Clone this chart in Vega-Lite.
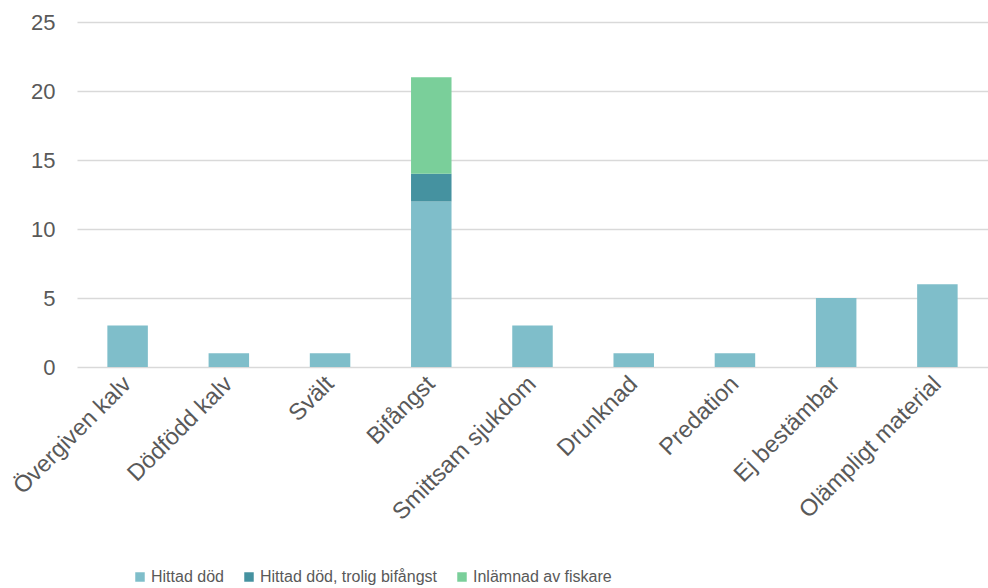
{
  "$schema": "https://vega.github.io/schema/vega-lite/v6.json",
  "autosize": {"type": "none"},
  "width": 911,
  "height": 345,
  "padding": {"left": 77, "top": 22, "right": 0, "bottom": 221},
  "background": "white",
  "config": {
    "view": {"stroke": null},
    "font": "Liberation Sans",
    "axis": {"labelColor": "#595959", "labelFont": "Liberation Sans"},
    "legend": {"labelColor": "#595959", "labelFont": "Liberation Sans"}
  },
  "data": {
    "values": [
      {"orsak": "Övergiven kalv", "typ": "Hittad död", "antal": 3},
      {"orsak": "Dödfödd kalv", "typ": "Hittad död", "antal": 1},
      {"orsak": "Svält", "typ": "Hittad död", "antal": 1},
      {"orsak": "Bifångst", "typ": "Hittad död", "antal": 12},
      {"orsak": "Bifångst", "typ": "Hittad död, trolig bifångst", "antal": 2},
      {"orsak": "Bifångst", "typ": "Inlämnad av fiskare", "antal": 7},
      {"orsak": "Smittsam sjukdom", "typ": "Hittad död", "antal": 3},
      {"orsak": "Drunknad", "typ": "Hittad död", "antal": 1},
      {"orsak": "Predation", "typ": "Hittad död", "antal": 1},
      {"orsak": "Ej bestämbar", "typ": "Hittad död", "antal": 5},
      {"orsak": "Olämpligt material", "typ": "Hittad död", "antal": 6}
    ]
  },
  "mark": {"type": "bar"},
  "encoding": {
    "x": {
      "field": "orsak",
      "type": "nominal",
      "sort": null,
      "scale": {"paddingInner": 0.6, "paddingOuter": 0.3},
      "axis": {
        "title": null,
        "labelAngle": -45,
        "labelAlign": "right",
        "labelBaseline": "middle",
        "labelFontSize": 23.5,
        "labelPadding": 13,
        "labelLimit": 0,
        "ticks": false,
        "domain": false,
        "grid": false
      }
    },
    "y": {
      "field": "antal",
      "type": "quantitative",
      "aggregate": "sum",
      "stack": "zero",
      "scale": {"domain": [0, 25], "nice": false},
      "axis": {
        "title": null,
        "values": [0, 5, 10, 15, 20, 25],
        "labelFontSize": 22,
        "labelPadding": 22,
        "ticks": false,
        "domain": false,
        "grid": true,
        "gridColor": "#d9d9d9",
        "gridWidth": 1.5
      }
    },
    "order": {"field": "typ", "sort": "ascending"},
    "color": {
      "field": "typ",
      "type": "nominal",
      "scale": {
        "domain": ["Hittad död", "Hittad död, trolig bifångst", "Inlämnad av fiskare"],
        "range": ["#7fbeca", "#4592a0", "#7acf9a"]
      },
      "legend": {
        "title": null,
        "orient": "none",
        "direction": "horizontal",
        "legendX": 55,
        "legendY": 547,
        "symbolType": "square",
        "symbolSize": 90,
        "symbolStrokeWidth": 0,
        "labelFontSize": 16,
        "labelOffset": 3,
        "labelLimit": 0,
        "columnPadding": 17
      }
    }
  }
}
